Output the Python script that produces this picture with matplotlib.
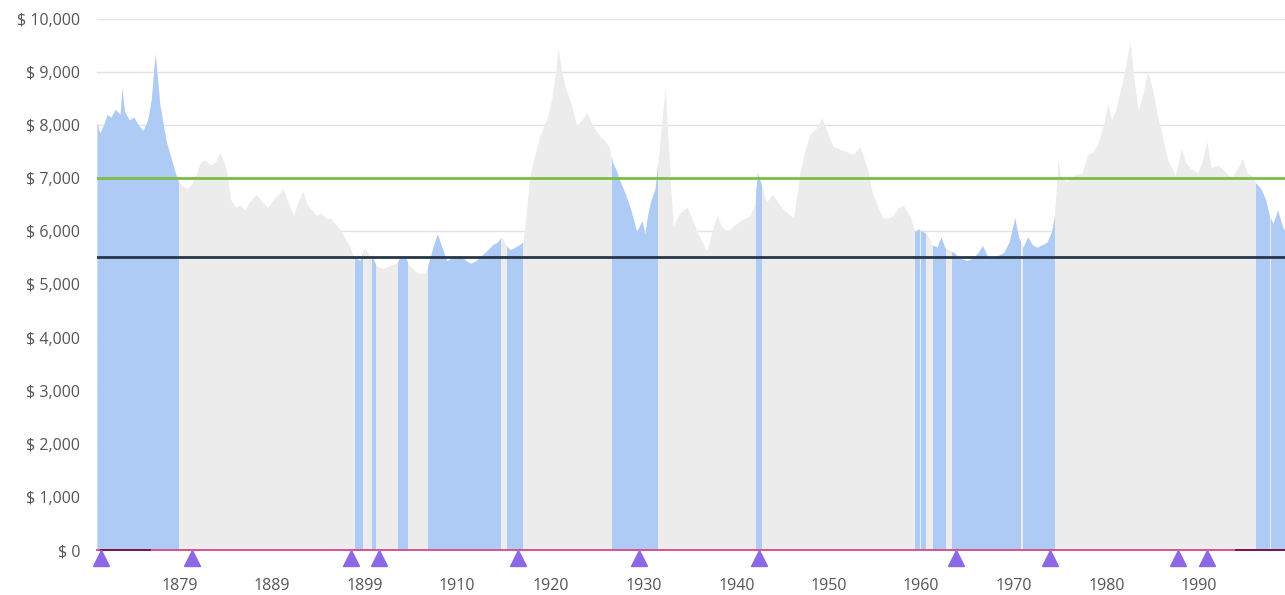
import numpy as np
import matplotlib
matplotlib.use("Agg")
import matplotlib.pyplot as plt
from matplotlib.patches import Rectangle
from matplotlib.ticker import FuncFormatter

# series (year, value in $)
years = [1870.5, 1870.8, 1871.2, 1871.6, 1872.0, 1872.5, 1873.0, 1873.2, 1873.5, 1874.0,
         1874.5, 1875.0, 1875.5, 1876.0, 1876.4, 1876.8, 1877.1, 1877.3, 1877.7, 1878.0,
         1878.5, 1879.0, 1879.3, 1879.8, 1880.3, 1880.8, 1881.3, 1881.7, 1882.2, 1882.8,
         1883.3, 1883.8, 1884.3, 1884.6, 1885.0, 1885.5, 1886.0, 1886.5, 1887.0, 1887.8,
         1888.4, 1889.0, 1889.6, 1890.2, 1890.7, 1891.2, 1891.8, 1892.3, 1892.8, 1893.3,
         1893.8, 1894.3, 1894.8, 1895.3, 1895.8, 1896.3, 1896.8, 1897.3, 1897.8, 1898.25,
         1898.6, 1899.0, 1899.5, 1900.0, 1900.4, 1900.8, 1901.5, 1902.2, 1903.0, 1903.3,
         1903.8, 1904.4, 1905.0, 1905.6, 1906.2, 1906.6, 1907.0, 1907.4, 1907.9, 1908.4,
         1909.0, 1909.9, 1910.5, 1911.0, 1911.6, 1912.2, 1912.8, 1913.4, 1913.9, 1914.4,
         1914.8, 1915.3, 1915.8, 1916.3, 1916.7, 1917.0, 1917.4, 1917.9, 1918.5, 1919.3,
         1919.8, 1920.2, 1920.5, 1920.9, 1921.3, 1921.8, 1922.5, 1923.1, 1923.6, 1924.2,
         1925.0, 1925.6, 1926.0, 1926.4, 1926.8, 1927.2, 1927.8, 1928.3, 1928.7, 1929.0,
         1929.6, 1929.9, 1930.2, 1930.5, 1931.0, 1931.3, 1931.7, 1932.1, 1932.4, 1932.7,
         1933.0, 1933.5, 1934.0, 1934.5, 1935.0, 1935.8, 1936.6, 1937.2, 1937.7, 1938.2,
         1938.8, 1939.5, 1940.2, 1940.8, 1941.3, 1941.8, 1942.1, 1942.5, 1943.1, 1943.7,
         1944.3, 1945.0, 1946.0, 1946.4, 1946.7, 1947.2, 1947.8, 1948.5, 1949.1, 1949.6,
         1950.3, 1951.0, 1951.8, 1952.5, 1953.2, 1954.0, 1954.6, 1955.2, 1955.7, 1956.3,
         1956.8, 1957.4, 1957.9, 1958.6, 1959.2, 1959.6, 1960.0, 1960.5, 1961.0, 1961.6,
         1962.0, 1962.4, 1962.9, 1963.4, 1964.0, 1964.8, 1965.5, 1966.0, 1966.5, 1967.0,
         1967.6, 1968.2, 1968.8, 1969.4, 1970.0, 1970.4, 1970.9, 1971.4, 1971.9, 1972.4,
         1973.0, 1973.5, 1974.0, 1974.3, 1974.5, 1974.7, 1975.0, 1975.7, 1976.3, 1977.3,
         1977.9, 1978.5, 1979.0, 1979.6, 1980.1, 1980.5, 1980.9, 1981.6, 1982.1, 1982.5,
         1982.9, 1983.4, 1983.9, 1984.4, 1984.9, 1985.5, 1986.0, 1986.6, 1987.0, 1987.4,
         1988.1, 1988.5, 1989.0, 1989.8, 1990.3, 1990.8, 1991.3, 1992.0, 1992.7, 1993.5,
         1994.2, 1994.7, 1995.2, 1995.7, 1996.2, 1996.7, 1997.2, 1997.6, 1998.0, 1998.5,
         1999.0, 1999.3]
values = [8050, 7850, 8000, 8200, 8150, 8300, 8200, 8700, 8250, 8100,
          8150, 8000, 7900, 8100, 8500, 9350, 8800, 8400, 8000, 7700,
          7400, 7100, 6950, 6850, 6800, 6900, 7100, 7300, 7350, 7250,
          7300, 7480, 7300, 7100, 6600, 6450, 6500, 6400, 6550, 6700,
          6550, 6450, 6600, 6700, 6800, 6550, 6300, 6550, 6750, 6500,
          6400, 6300, 6350, 6250, 6250, 6150, 6050, 5900, 5750, 5550,
          5500, 5450, 5700, 5550, 5500, 5350, 5300, 5350, 5400, 5500,
          5550, 5350, 5250, 5200, 5250, 5500, 5750, 5950, 5700, 5450,
          5500, 5550, 5450, 5400, 5450, 5550, 5640, 5750, 5800, 5900,
          5750, 5650, 5700, 5750, 5800, 6300, 7000, 7400, 7800, 8140,
          8500, 9000, 9450, 9000, 8700, 8460, 8000, 8100, 8250, 8000,
          7800, 7700, 7600, 7300, 7150, 6950, 6700, 6450, 6200, 6000,
          6200, 5950, 6300, 6550, 6800, 7300, 8000, 8700, 7800, 6800,
          6100, 6300, 6400, 6450, 6250, 5900, 5640, 6000, 6300, 6100,
          6000, 6100, 6200, 6250, 6300, 6500, 7100, 6900, 6550, 6700,
          6550, 6400, 6260, 6700, 7100, 7500, 7830, 7950, 8140, 7900,
          7600, 7550, 7500, 7450, 7600, 7200, 6700, 6450, 6260, 6250,
          6300, 6450, 6500, 6300, 6000, 6050, 6000, 5950, 5750, 5700,
          5900, 5700, 5650, 5600, 5500, 5450, 5500, 5600, 5730, 5550,
          5500, 5550, 5600, 5800, 6260, 5900, 5700, 5900, 5750, 5700,
          5750, 5800, 6000, 6300, 6800, 7380, 7000, 6950, 7050, 7100,
          7450, 7500, 7640, 8000, 8400, 8100, 8270, 8770, 9200, 9580,
          8900, 8270, 8600, 9000, 8700, 8140, 7800, 7330, 7200, 7050,
          7580, 7300, 7200, 7100, 7300, 7700, 7200, 7250, 7150, 7000,
          7200, 7380, 7100, 7050, 6900, 6800, 6600, 6300, 6150, 6400,
          6100, 6000]

# periods drawn in blue
blue_start = [1870.5, 1898.5, 1900.3, 1903.1, 1906.4, 1915.0, 1926.3, 1929.3, 1942.0,
              1959.2, 1959.8, 1961.1, 1963.2, 1970.9, 1996.2, 1997.8]
blue_end = [1879.3, 1899.2, 1900.6, 1904.1, 1914.2, 1916.6, 1929.1, 1931.2, 1942.5,
            1959.6, 1960.3, 1962.4, 1970.6, 1974.3, 1997.6, 1999.3]

green_level = 7000
dark_level = 5525
marker_years = [1870.9, 1880.8, 1898.0, 1901.1, 1916.1, 1929.3, 1942.3, 1963.6, 1973.8, 1987.7, 1990.8]
dark_zero_start = [1870.9, 1994.0]
dark_zero_end = [1876.2, 1999.3]

tick_pos = [1879.5, 1889.5, 1899.5, 1909.5, 1919.7, 1929.8, 1939.9, 1949.8, 1959.8, 1969.9, 1980.0, 1990.0]
tick_lab = ["1879", "1889", "1899", "1910", "1920", "1930", "1940", "1950", "1960", "1970", "1980", "1990"]

plt.rcParams['font.family'] = ['Open Sans', 'DejaVu Sans']

fig = plt.figure(figsize=(12.85, 5.95), dpi=100)
ax = fig.add_axes([97/1285, 1 - 550/595, 1 - 97/1285, (550 - 19)/595])

ax.fill_between(years, values, 0, color="#ececec", lw=0, zorder=2)
for s, e in zip(blue_start, blue_end):
    poly = ax.fill_between(years, values, 0, color="#aecbf6", lw=0, zorder=3)
    poly.set_clip_path(Rectangle((s, 0), e - s, 10000, transform=ax.transData))

ax.axhline(green_level, color="#7cbd48", lw=2, zorder=4)
ax.axhline(dark_level, color="#27364a", lw=2, zorder=4)
ax.axhline(0, color="#d9478a", lw=1.3, zorder=5, clip_on=False)
for s, e in zip(dark_zero_start, dark_zero_end):
    ax.plot([s, e], [0, 0], color="#6e1243", lw=1.3, zorder=6, clip_on=False)

ax.plot(marker_years, [-150] * len(marker_years), ls="none", marker="^", ms=11,
        color="#8b69e6", zorder=7, clip_on=False)

ax.set_xlim(1870.5, 1999.3)
ax.set_ylim(0, 10000)
ax.set_yticks(range(0, 10001, 1000))
ax.yaxis.set_major_formatter(FuncFormatter(lambda v, p: "$ {:,.0f}".format(v)))
ax.set_xticks(tick_pos)
ax.set_xticklabels(tick_lab)
ax.grid(axis="y", color="#e3e3e3", lw=1, zorder=1)
ax.set_axisbelow(True)
for sp in ax.spines.values():
    sp.set_visible(False)
ax.tick_params(length=0, labelsize=11.5, colors="#555555")
ax.tick_params(axis="x", pad=20)
ax.tick_params(axis="y", pad=12)

fig.savefig("out.png", dpi=100)
